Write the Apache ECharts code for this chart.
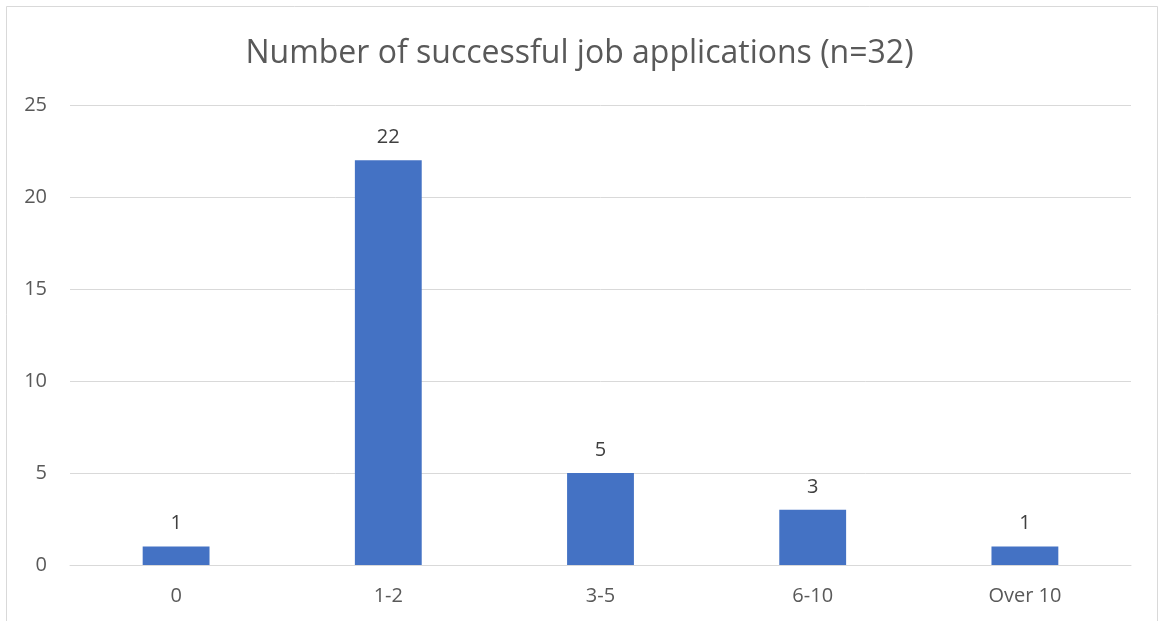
<!DOCTYPE html>
<html><head><meta charset="utf-8">
<script src="https://cdn.jsdelivr.net/npm/echarts@6/dist/echarts.min.js"></script>
<style>html,body{margin:0;padding:0;background:#fff}#c{width:1159px;height:621px}</style>
</head><body><div id="c"></div>
<script>
var categories = ['0', '1-2', '3-5', '6-10', 'Over 10'];
var values = [1, 22, 5, 3, 1];
var yTicks = [0, 5, 10, 15, 20, 25];
var chart = echarts.init(document.getElementById('c'));
chart.setOption({
  animation: false,
  backgroundColor: '#fff',
  textStyle: { fontFamily: 'Open Sans, Liberation Sans, sans-serif' },
  graphic: [{ type: 'rect', shape: { x: 6.5, y: 6.5, width: 1151, height: 630 }, style: { fill: 'none', stroke: '#d9d9d9', lineWidth: 1 }, silent: true }],
  title: { text: 'Number of successful job applications (n=32)', left: 'center', top: 33,
    textStyle: { fontSize: 32, fontWeight: 'normal', color: '#595959', fontFamily: 'Open Sans, sans-serif' } },
  grid: { left: 70, right: 28, top: 105, bottom: 56, containLabel: false },
  xAxis: { type: 'category', data: categories,
    axisLine: { lineStyle: { color: '#d9d9d9', width: 1 } }, axisTick: { show: false },
    axisLabel: { color: '#595959', fontSize: 20, margin: 21 } },
  yAxis: { type: 'value', min: yTicks[0], max: yTicks[yTicks.length - 1], interval: 5,
    axisLine: { show: false }, axisTick: { show: false },
    splitLine: { lineStyle: { color: '#d9d9d9', width: 1 } },
    axisLabel: { color: '#595959', fontSize: 20, margin: 23 } },
  series: [{ type: 'bar', data: values, barWidth: '31.5%',
    itemStyle: { color: '#4472c4' },
    label: { show: true, position: 'top', distance: 13, color: '#404040', fontSize: 20 } }]
});
</script></body></html>
